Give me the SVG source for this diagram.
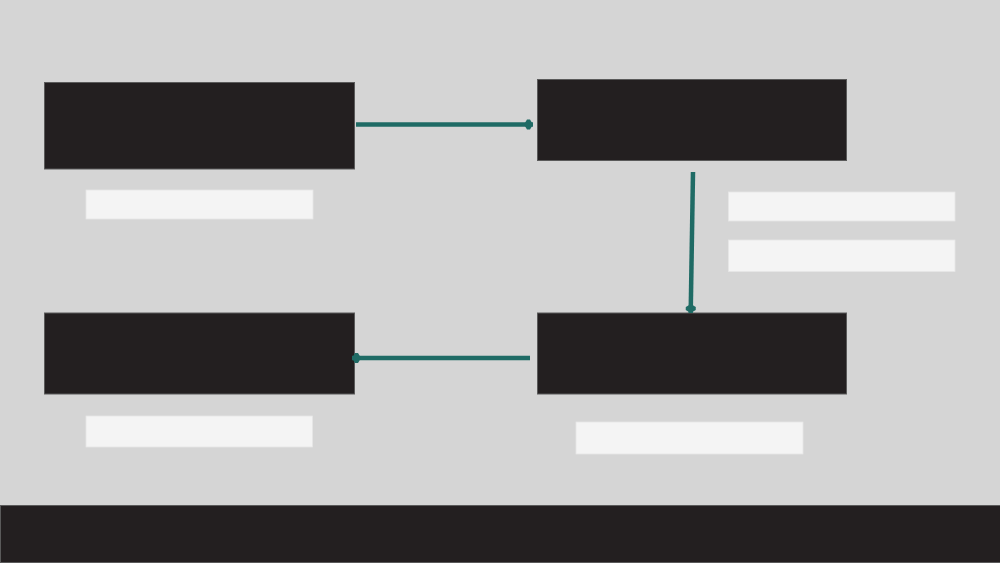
<svg xmlns="http://www.w3.org/2000/svg" width="1000" height="563" viewBox="0 0 1000 563">
<style>
.node{fill:#231f20;stroke:#5a5a5a;stroke-width:1}
.label{fill:#f4f4f4;stroke:#e6e6e6;stroke-width:0.8}
.conn{stroke:#1f6b65;stroke-width:4.5;fill:none;marker-end:url(#head)}
</style>
<defs>
<marker id="head" markerUnits="userSpaceOnUse" markerWidth="14" markerHeight="14" refX="10" refY="7" orient="auto">
<path d="M1,7 L4,2 L7,2 L10,7 L7,12 L4,12 Z" fill="#1f6b65"/>
</marker>
</defs>
<rect x="0" y="0" width="1000" height="563" fill="#d5d5d5"/>
<g id="node-top-left">
<rect class="node" x="44.5" y="82.5" width="310" height="86.5"/>
<rect class="label" x="86" y="190" width="227" height="29"/>
</g>
<g id="node-top-right">
<rect class="node" x="537.5" y="79.5" width="309" height="81"/>
<rect class="label" x="728.5" y="192" width="226.5" height="29"/>
<rect class="label" x="728.5" y="240" width="226.5" height="31.5"/>
</g>
<g id="node-bottom-left">
<rect class="node" x="44.5" y="313" width="310" height="81"/>
<rect class="label" x="86" y="416" width="226.5" height="31"/>
</g>
<g id="node-bottom-right">
<rect class="node" x="537.5" y="313" width="309" height="81"/>
<rect class="label" x="576" y="422" width="227" height="32"/>
</g>
<g id="footer">
<rect class="node" x="0.5" y="505.5" width="1000" height="57"/>
</g>
<g id="connectors">
<line class="conn" x1="356" y1="124.5" x2="533" y2="124.5"/>
<line class="conn" x1="693" y1="172" x2="690.7" y2="313"/>
<line class="conn" x1="530" y1="358" x2="352" y2="358"/>
</g>
</svg>
